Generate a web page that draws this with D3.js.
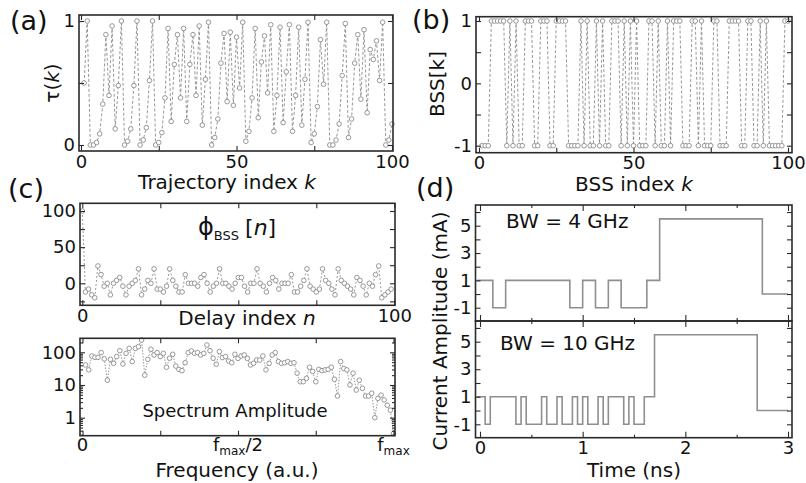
<!DOCTYPE html>
<html>
<head>
<meta charset="utf-8">
<script src="https://cdn.jsdelivr.net/npm/d3@7/dist/d3.min.js"></script>
<style>
  body { margin: 0; background: #fff; }
  svg { font-family: "DejaVu Sans", Verdana, sans-serif; }
</style>
</head>
<body>
<svg id="fig" width="806" height="483"></svg>
<script>
// ---- data ----
// (a) trajectory tau(k), k = 1..100
const tau = [0.5, 1.0, 0.0, 0.0, 0.02, 0.09, 0.33, 0.89, 0.40, 0.96,
  0.13, 0.48, 1.0, 0.0, 0.03, 0.13, 0.48, 1.0, 0.0, 0.04,
  0.14, 0.52, 1.0, 0.0, 0.02, 0.10, 0.38, 0.94, 0.19, 0.65,
  0.89, 0.38, 0.94, 0.19, 0.65, 0.89, 0.40, 0.96, 0.16, 0.53,
  0.99, 0.0, 0.06, 0.21, 0.66, 0.90, 0.35, 0.91, 0.32, 0.87,
  0.46, 0.99, 0.03, 0.11, 0.38, 0.94, 0.22, 0.67, 0.88, 0.42,
  0.97, 0.11, 0.40, 0.95, 0.18, 0.59, 0.97, 0.11, 0.40, 0.95,
  0.16, 0.53, 0.99, 0.02, 0.09, 0.31, 0.85, 0.49, 0.99, 0.0,
  0.0, 0.04, 0.17, 0.56, 0.98, 0.06, 0.21, 0.66, 0.89, 0.37,
  0.93, 0.26, 0.77, 0.69, 0.84, 0.52, 0.99, 0.0, 0.04, 0.17];

// (b) binary sequence BSS[k], k = 1..100
const bss = [-1, -1, -1, 1, 1, 1, 1, 1, -1, 1,
  -1, 1, -1, -1, 1, 1, 1, -1, -1, 1,
  1, 1, -1, -1, 1, 1, 1, 1, -1, -1,
  -1, -1, 1, -1, 1, -1, -1, 1, -1, 1,
  -1, -1, 1, 1, 1, -1, 1, -1, 1, -1,
  1, -1, -1, -1, 1, 1, -1, 1, -1, -1,
  1, -1, 1, 1, 1, -1, -1, -1, 1, 1,
  -1, 1, -1, -1, -1, 1, 1, -1, -1, -1,
  1, 1, 1, 1, -1, -1, 1, 1, -1, -1,
  1, -1, 1, -1, -1, -1, -1, -1, 1, 1];

// (c) autocorrelation phi_BSS[n], n = 0..99
const phi = [100, -12, -8, -16, -20, 24, 12, -4, 0, -16,
  0, 4, 8, -4, -16, -4, 0, 4, 20, -16,
  -8, 4, 0, 20, -8, -8, -12, -4, 20, 4,
  -4, -12, -12, 12, 0, 0, 0, -4, 8, 12,
  0, -12, -4, 0, 20, 0, 0, -4, -8, 0,
  8, 8, -4, -12, 0, 0, 20, 0, -4, -12,
  0, 8, 4, -8, 0, 0, 0, 12, -12, -12,
  -4, 4, 20, -4, -8, -12, -8, 20, 4, 0,
  -8, -16, 20, 4, 0, -4, -8, -16, 8, 4,
  -4, -16, 0, -4, 12, 24, -20, -16, -12, -8];

// (c) spectrum amplitude, bins 1..100 (bin 100 = f_max)
const spectrum = [41, 29, 77, 70, 70, 98, 63, 14, 61, 46,
  74, 112, 44, 93, 132, 52, 132, 149, 238, 20,
  61, 124, 83, 98, 74, 93, 35, 66, 87, 38,
  30, 27.5, 48, 98, 110, 93, 98, 83, 93, 167,
  112, 66, 43, 105, 69, 74, 54, 48, 87, 65,
  77, 83, 65, 41, 46, 58, 58, 77, 29, 46,
  83, 98, 52, 46, 48, 52, 46, 48, 23, 12.6,
  12.6, 16, 35, 26, 12.6, 30, 27.5, 29, 30, 35,
  15, 4.6, 52, 32, 29, 10, 23, 7, 14, 7.9,
  4.6, 4.6, 5.6, 1.0, 3.9, 4.9, 3.5, 2.4, 1.7, 0.33];

// (d) drive current, step edges (ns) and levels (mA)
const bw4Edges = [-0.03, 0.125, 0.25, 0.875, 1.0, 1.125, 1.25, 1.375, 1.625, 1.75, 2.75, 3.0];
const bw4Levels = [1, -1, 1, -1, 1, -1, 1, -1, 1, 5.5, 0];
const bw10Edges = [-0.03, 0.05, 0.1, 0.35, 0.4, 0.45, 0.6, 0.65, 0.75, 0.8, 0.9, 0.95,
  1.0, 1.05, 1.15, 1.2, 1.25, 1.4, 1.45, 1.5, 1.6, 1.7, 2.7, 3.0];
const bw10Levels = [1, -1, 1, -1, 1, -1, 1, -1, 1, -1, 1, -1,
  1, -1, 1, -1, 1, -1, 1, -1, 1, 5.5, 0];

// tick values
const idxTicks = [0, 25, 50, 75, 100];
const ampTicks = [-1, 0, 1, 2, 3, 4, 5, 6];

// ---- drawing ----
const svg = d3.select("#fig");
const grey = "#8c8c8c";
const ink = "#2a2a2a";
const tickFont = 18;
const labelFont = 20;

function tickRow(g, axis, tr, len, fmt) {
  g.append("g")
    .attr("transform", tr)
    .call(axis.tickSize(-len).tickPadding(4).tickFormat(fmt || (() => "")))
    .call(s => s.select(".domain").remove())
    .attr("font-family", null)
    .attr("font-size", tickFont)
    .call(s => s.selectAll("line").attr("stroke", ink).attr("stroke-width", 1.1))
    .call(s => s.selectAll("text").attr("fill", "#111"));
}

// ticks on all four sides, labels only bottom/left
function axes(box, x, y, o) {
  const g = svg.append("g");
  const xl = o.xLen || 5, yl = o.yLen || 5;
  tickRow(g, d3.axisBottom(x).tickValues(o.xTicks), `translate(0,${box.y1})`, xl, o.xFmt);
  tickRow(g, d3.axisTop(x).tickValues(o.xTicks), `translate(0,${box.y0})`, xl);
  tickRow(g, d3.axisLeft(y).tickValues(o.yTicks), `translate(${box.x0},0)`, yl, o.yFmt);
  tickRow(g, d3.axisRight(y).tickValues(o.yTicks), `translate(${box.x1},0)`, yl);
  if (o.xMinor) {
    tickRow(g, d3.axisBottom(x).tickValues(o.xMinor), `translate(0,${box.y1})`, 3);
    tickRow(g, d3.axisTop(x).tickValues(o.xMinor), `translate(0,${box.y0})`, 3);
  }
  if (o.yMinor) {
    tickRow(g, d3.axisLeft(y).tickValues(o.yMinor), `translate(${box.x0},0)`, 3);
    tickRow(g, d3.axisRight(y).tickValues(o.yMinor), `translate(${box.x1},0)`, 3);
  }
  return g;
}

function frame(box) {
  svg.append("rect")
    .attr("x", box.x0).attr("y", box.y0)
    .attr("width", box.x1 - box.x0).attr("height", box.y1 - box.y0)
    .attr("fill", "none").attr("stroke", ink).attr("stroke-width", 1.6);
}

function dottedSeries(data, x, y, dash) {
  const g = svg.append("g");
  g.append("path")
    .datum(data)
    .attr("fill", "none")
    .attr("stroke", grey)
    .attr("stroke-width", 0.9)
    .attr("stroke-dasharray", dash)
    .attr("d", d3.line().x(d => x(d[0])).y(d => y(d[1])));
  g.selectAll("circle")
    .data(data)
    .enter().append("circle")
    .attr("cx", d => x(d[0]))
    .attr("cy", d => y(d[1]))
    .attr("r", 2.3)
    .attr("fill", "#fff")
    .attr("stroke", grey)
    .attr("stroke-width", 0.9);
}

function label(txt, x, y, size, opts) {
  const t = svg.append("text")
    .attr("x", x).attr("y", y)
    .attr("font-size", size)
    .attr("fill", "#111")
    .attr("text-anchor", (opts && opts.anchor) || "middle");
  if (opts && opts.rotate) t.attr("transform", `rotate(-90,${x},${y})`);
  return t.text(txt);
}

function labelItalicTail(txt, it, x, y, size, rotate) {
  const t = label(txt, x, y, size, { rotate });
  t.append("tspan").attr("font-style", "italic").text(it);
  return t;
}

// (a)
const boxA = { x0: 79, x1: 393, y0: 15, y1: 151 };
const xA = d3.scaleLinear().domain([0, 100]).range([81, 392]);
const yA = d3.scaleLinear().domain([0, 1]).range([145, 21]);
dottedSeries(tau.map((v, i) => [i + 1, v]), xA, yA, "3,2");
axes(boxA, xA, yA, {
  xTicks: idxTicks, yTicks: [0, 0.5, 1],
  xFmt: d => (d % 50 === 0 ? d : ""), yFmt: d => (d % 1 === 0 ? d : "")
});
frame(boxA);
labelItalicTail("Trajectory index ", "k", 227, 189, labelFont);
const tl = label("\u03c4(", 59, 83, labelFont, { rotate: true });
tl.append("tspan").attr("font-style", "italic").text("k");
tl.append("tspan").text(")");

// (b)
const boxB = { x0: 476, x1: 792, y0: 16.7, y1: 152.7 };
const xB = d3.scaleLinear().domain([0, 100]).range([479, 788]);
const yB = d3.scaleLinear().domain([-1, 1]).range([145.7, 21]);
dottedSeries(bss.map((v, i) => [i + 1, v]), xB, yB, "3,2");
axes(boxB, xB, yB, {
  xTicks: idxTicks, yTicks: [-1, -0.5, 0, 0.5, 1],
  xFmt: d => (d % 50 === 0 ? d : ""), yFmt: d => (d % 1 === 0 ? d : "")
});
frame(boxB);
labelItalicTail("BSS index ", "k", 634, 191, labelFont);
label("BSS[k]", 444, 84, labelFont, { rotate: true });

// (c) autocorrelation
const boxC1 = { x0: 80, x1: 395, y0: 203.3, y1: 305.3 };
const xC1 = d3.scaleLinear().domain([0, 100]).range([82.3, 394.3]);
const yC1 = d3.scaleLinear().domain([0, 100]).range([283.3, 211]);
dottedSeries(phi.map((v, i) => [i, v]), xC1, yC1, "2,2");
axes(boxC1, xC1, yC1, {
  xTicks: idxTicks, yTicks: [-25, 0, 25, 50, 75, 100],
  xFmt: d => (d === 0 ? "0" : d === 100 ? "100" : ""),
  yFmt: d => ([0, 50, 100].includes(d) ? String(d) : "")
});
frame(boxC1);
labelItalicTail("Delay index ", "n", 247, 325, labelFont);
const ph = svg.append("text").attr("x", 198).attr("y", 235).attr("fill", "#111").attr("font-size", 24);
ph.append("tspan").text("\u03d5");
ph.append("tspan").attr("font-size", 13).attr("dy", 5).text("BSS");
ph.append("tspan").attr("dy", -5).attr("dx", 6).attr("font-size", 22).text("[");
ph.append("tspan").attr("font-size", 22).attr("font-style", "italic").text("n");
ph.append("tspan").attr("font-size", 22).text("]");

// (c) spectrum
const boxC2 = { x0: 80, x1: 395, y0: 338.3, y1: 435.7 };
const xC2 = d3.scaleLinear().domain([0, 100]).range([82.5, 393.5]);
const yC2 = d3.scaleLog().domain([1, 100]).range([417.7, 352.3]);
dottedSeries(spectrum.map((v, i) => [i + 1, v]), xC2, yC2, "1.5,1.5");
const logMinor = [];
[0.1, 1, 10, 100].forEach(b => d3.range(2, 10).forEach(m => {
  const v = b * m;
  if (v > 0.28 && v < 268) logMinor.push(v);
}));
axes(boxC2, xC2, yC2, {
  xTicks: idxTicks, yTicks: [1, 10, 100], yMinor: logMinor,
  yFmt: d => String(d)
});
frame(boxC2);
[[0, "0", null, ""], [50, "f", "max", "/2"], [100, "f", "max", ""]].forEach(([v, a, sub, tail]) => {
  const t = svg.append("text")
    .attr("x", xC2(v)).attr("y", 451)
    .attr("text-anchor", "middle")
    .attr("font-size", tickFont).attr("fill", "#111");
  t.append("tspan").text(a);
  if (sub) {
    t.append("tspan").attr("font-size", 12).attr("dy", 4).text(sub);
    if (tail) t.append("tspan").attr("dy", -4).text(tail);
  }
});
label("Frequency (a.u.)", 237, 477, labelFont);
label("Spectrum Amplitude", 235, 417, 18);

// (d) current traces
const xD = d3.scaleLinear().domain([0, 3]).range([480, 788]);
const boxD1 = { x0: 475.5, x1: 792, y0: 205, y1: 321 };
const boxD2 = { x0: 475.5, x1: 792, y0: 321, y1: 437.7 };
const yD1 = d3.scaleLinear().domain([-1, 5]).range([307.7, 225.7]);
const yD2 = d3.scaleLinear().domain([-1, 5]).range([424.3, 341.7]);
const step = d3.line().curve(d3.curveStepAfter);

function trace(edges, levels, y) {
  const pts = edges.map((t, i) => [xD(t), y(levels[Math.min(i, levels.length - 1)])]);
  svg.append("path")
    .attr("d", step(pts))
    .attr("fill", "none")
    .attr("stroke", "#8f8f8f")
    .attr("stroke-width", 1.6);
}
trace(bw4Edges, bw4Levels, yD1);
trace(bw10Edges, bw10Levels, yD2);

const ampFmt = d => ([5, 3, 1, -1].includes(d) ? String(d) : "");
axes(boxD1, xD, yD1, {
  xTicks: [0, 1, 2, 3], xMinor: [0.5, 1.5, 2.5], xLen: 6,
  yTicks: ampTicks, yFmt: ampFmt
});
axes(boxD2, xD, yD2, {
  xTicks: [0, 1, 2, 3], xMinor: [0.5, 1.5, 2.5], xLen: 6,
  yTicks: ampTicks, yFmt: ampFmt, xFmt: d => String(d)
});
frame(boxD1);
frame(boxD2);
label("BW = 4 GHz", 506, 228, labelFont, { anchor: "start" });
label("BW = 10 GHz", 500, 350, labelFont, { anchor: "start" });
label("Time (ns)", 634, 477, labelFont);
label("Current Amplitude (mA)", 447, 331, labelFont, { rotate: true });

// panel letters
label("(a)", 10, 30, 27, { anchor: "start" });
label("(b)", 412, 29, 27, { anchor: "start" });
label("(c)", 8, 198, 27, { anchor: "start" });
label("(d)", 416, 197, 27, { anchor: "start" });
</script>
</body>
</html>
